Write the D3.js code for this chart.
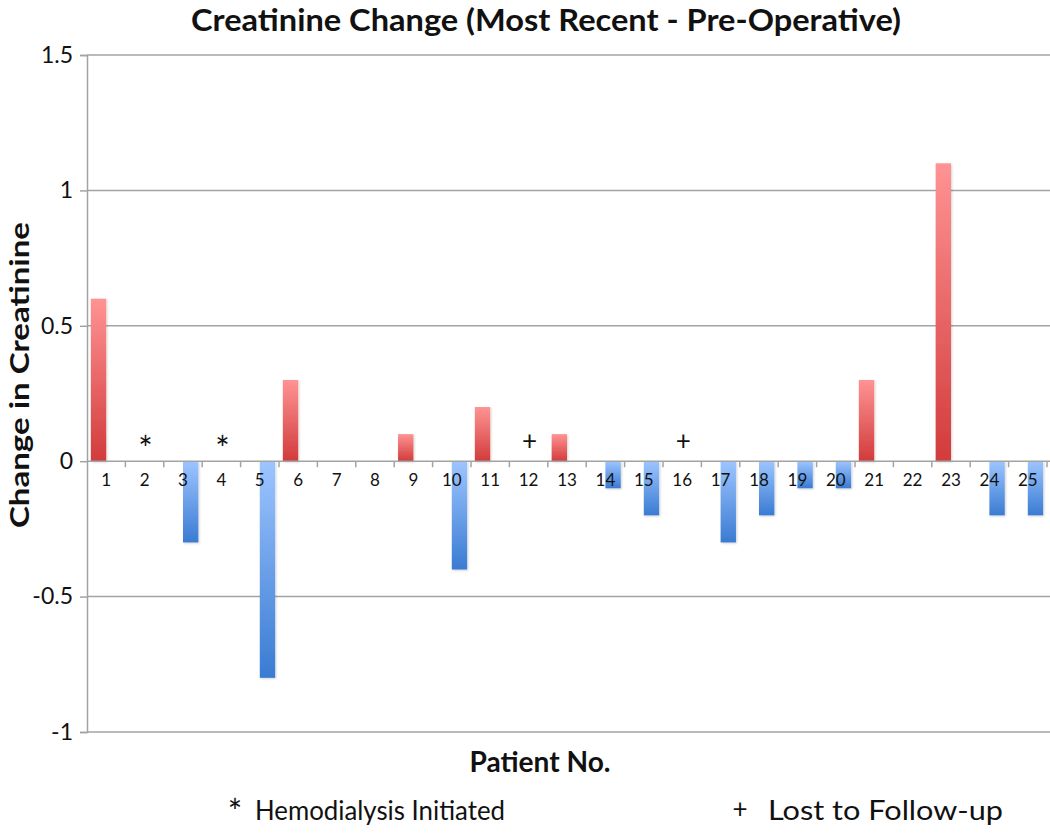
<!DOCTYPE html>
<html>
<head>
<meta charset="utf-8">
<script src="https://cdn.jsdelivr.net/npm/d3@7/dist/d3.min.js"></script>
<style>
  body { margin: 0; background: #fff; }
  svg { display: block; font-family: Lato, "Open Sans", sans-serif; }
</style>
</head>
<body>
<div id="chart"></div>
<script>
// 数据：患者编号与肌酐变化值（最近 - 术前）
const patients = d3.range(1, 26).map(String);
const creatChange = [0.6, 0, -0.3, 0, -0.8, 0.3, 0, 0, 0.1, -0.4, 0.2, 0, 0.1,
                     -0.1, -0.2, 0, -0.3, -0.2, -0.1, -0.1, 0.3, 0, 1.1, -0.2, -0.2];
// 标记：* 开始血液透析，+ 失访
const markerPatients = ['2', '4', '12', '16'];
const markerSymbols = ['*', '*', '+', '+'];
const yTicks = [-1, -0.5, 0, 0.5, 1, 1.5];
const legendSymbols = ['*', '+'];
const legendLabels = ['Hemodialysis Initiated', 'Lost to Follow-up'];

const W = 1050, H = 833;
const plot = { left: 87, right: 1047, top: 55, bottom: 732 };

const svg = d3.select('#chart').append('svg')
  .attr('width', W)
  .attr('height', H);

// 渐变：正值红色、负值蓝色，上浅下深
const defs = svg.append('defs');
function addGrad(id, top, bottom) {
  const g = defs.append('linearGradient')
    .attr('id', id).attr('x1', 0).attr('y1', 0).attr('x2', 0).attr('y2', 1);
  g.append('stop').attr('offset', '0%').attr('stop-color', top);
  g.append('stop').attr('offset', '100%').attr('stop-color', bottom);
}
addGrad('gradPos', '#ff9393', '#d23b3b');
addGrad('gradNeg', '#9dc5ff', '#3a7bd2');

const shadow = defs.append('filter').attr('id', 'shadow')
  .attr('x', '-20%').attr('y', '-5%').attr('width', '150%').attr('height', '115%');
shadow.append('feDropShadow')
  .attr('dx', 1).attr('dy', 1).attr('stdDeviation', 1)
  .attr('flood-color', '#000').attr('flood-opacity', 0.18);

// 比例尺
const x = d3.scaleBand()
  .domain(patients)
  .range([plot.left, plot.right])
  .paddingInner(0).paddingOuter(0);

const xSub = d3.scaleBand()
  .domain(['pos', 'neg'])
  .range([0, x.bandwidth()])
  .paddingInner(0).paddingOuter(0.25);

const y = d3.scaleLinear()
  .domain([-1, 1.5])
  .range([plot.bottom, plot.top]);

// 网格线
svg.append('g')
  .selectAll('line')
  .data(yTicks.filter(d => d !== 0))
  .enter()
  .append('line')
    .attr('x1', plot.left)
    .attr('x2', plot.right + 3)
    .attr('y1', d => y(d))
    .attr('y2', d => y(d))
    .attr('stroke', '#a3a3a3')
    .attr('stroke-width', 1.5);

// y 轴
const yAxis = svg.append('g')
  .attr('transform', `translate(${plot.left},0)`)
  .call(d3.axisLeft(y).tickValues(yTicks).tickSize(7).tickPadding(7).tickFormat(d => String(d)));
yAxis.select('.domain').attr('stroke', '#a3a3a3').attr('stroke-width', 1.5);
yAxis.selectAll('.tick line').attr('stroke', '#a3a3a3').attr('stroke-width', 1.5);
yAxis.selectAll('.tick text')
  .attr('fill', '#111')
  .style('font-size', '23px')
  .style('font-family', 'Lato, "Open Sans", sans-serif');

// 柱子
const data = patients.map((p, i) => ({ patient: p, value: creatChange[i] }));

svg.append('g')
  .selectAll('rect')
  .data(data.filter(d => d.value !== 0))
  .enter()
  .append('rect')
    .attr('x', d => x(d.patient) + xSub(d.value > 0 ? 'pos' : 'neg'))
    .attr('width', xSub.bandwidth())
    .attr('y', d => y(Math.max(0, d.value)))
    .attr('height', d => Math.abs(y(d.value) - y(0)))
    .attr('fill', d => d.value > 0 ? 'url(#gradPos)' : 'url(#gradNeg)')
    .attr('filter', 'url(#shadow)');

// x 轴（零线）
svg.append('line')
  .attr('x1', plot.left).attr('x2', plot.right + 3)
  .attr('y1', y(0)).attr('y2', y(0))
  .attr('stroke', '#a3a3a3')
  .attr('stroke-width', 1.5);

// 分类边界刻度
const boundaries = patients.map(p => x(p)).concat([plot.right]);
svg.append('g')
  .selectAll('line')
  .data(boundaries.slice(1))
  .enter()
  .append('line')
    .attr('x1', d => d).attr('x2', d => d)
    .attr('y1', y(0)).attr('y2', y(0) + 6)
    .attr('stroke', '#a3a3a3')
    .attr('stroke-width', 1.5);

// x 轴标签
const xAxis = svg.append('g')
  .attr('transform', `translate(0,${y(0)})`)
  .call(d3.axisBottom(x).tickSize(0).tickPadding(13));
xAxis.select('.domain').remove();
xAxis.selectAll('.tick text')
  .attr('fill', '#111')
  .style('font-size', '17px')
  .style('font-family', 'Lato, "Open Sans", sans-serif');

// 标记符号
svg.append('g')
  .selectAll('text')
  .data(markerPatients.map((p, i) => ({ patient: p, sym: markerSymbols[i] })))
  .enter()
  .append('text')
    .attr('x', d => x(d.patient) + x.bandwidth() / 2 + 1)
    .attr('y', d => d.sym === '*' ? y(0) : y(0) - 11)
    .attr('text-anchor', 'middle')
    .attr('fill', '#111')
    .style('font-size', d => d.sym === '*' ? '34px' : '26px')
    .text(d => d.sym);

// 标题
svg.append('text')
  .attr('x', 546)
  .attr('y', 31)
  .attr('text-anchor', 'middle')
  .attr('fill', '#111')
  .attr('textLength', 710)
  .attr('lengthAdjust', 'spacingAndGlyphs')
  .style('font-size', '30px')
  .style('font-weight', 'bold')
  .text('Creatinine Change (Most Recent - Pre-Operative)');

// y 轴标题
svg.append('text')
  .attr('transform', 'rotate(-90)')
  .attr('x', -375)
  .attr('y', 29)
  .attr('text-anchor', 'middle')
  .attr('fill', '#111')
  .attr('textLength', 306)
  .attr('lengthAdjust', 'spacingAndGlyphs')
  .style('font-size', '27px')
  .style('font-weight', 'bold')
  .text('Change in Creatinine');

// x 轴标题
svg.append('text')
  .attr('x', 540)
  .attr('y', 772)
  .attr('text-anchor', 'middle')
  .attr('fill', '#111')
  .attr('textLength', 141)
  .attr('lengthAdjust', 'spacingAndGlyphs')
  .style('font-size', '28px')
  .style('font-weight', 'bold')
  .text('Patient No.');

// 图例说明
const legendSymX = [235, 740];
const legendTextX = [255, 768];
const legendTextLen = [250, 235];
svg.append('g')
  .selectAll('text')
  .data(legendSymbols)
  .enter()
  .append('text')
    .attr('x', (d, i) => legendSymX[i])
    .attr('y', d => d === '*' ? 824 : 818)
    .attr('text-anchor', 'middle')
    .attr('fill', '#111')
    .style('font-size', d => d === '*' ? '34px' : '26px')
    .text(d => d);

svg.append('g')
  .selectAll('text')
  .data(legendLabels)
  .enter()
  .append('text')
    .attr('x', (d, i) => legendTextX[i])
    .attr('y', 820)
    .attr('fill', '#111')
    .attr('textLength', (d, i) => legendTextLen[i])
    .attr('lengthAdjust', 'spacingAndGlyphs')
    .style('font-size', '26px')
    .text(d => d);
</script>
</body>
</html>
